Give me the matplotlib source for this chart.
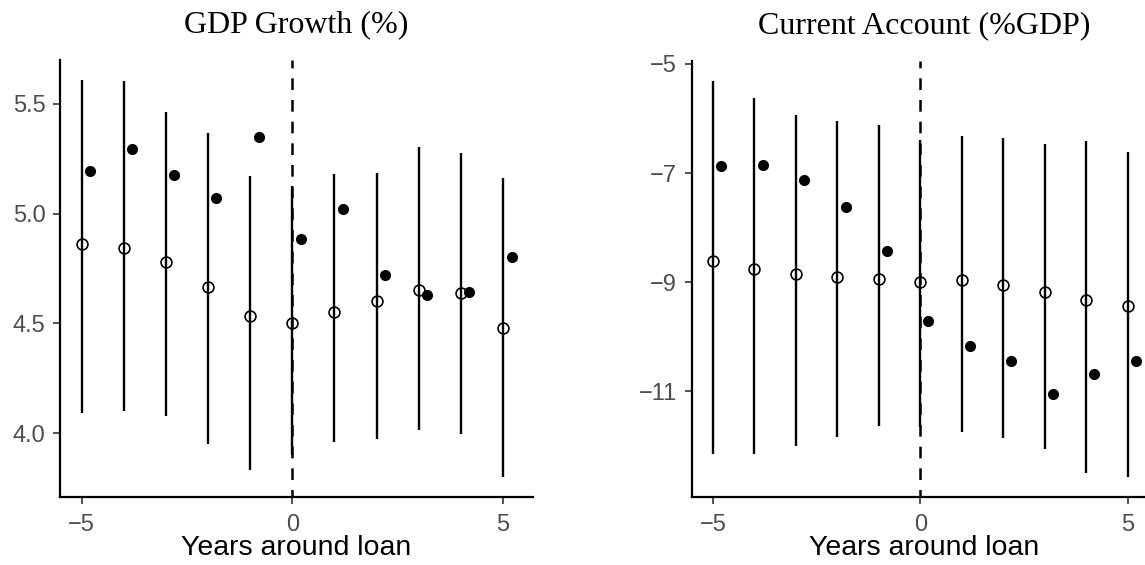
import matplotlib
matplotlib.use("Agg")
import matplotlib.pyplot as plt
import numpy as np

plt.rcParams['lines.scale_dashes'] = False

years = [-5, -4, -3, -2, -1, 0, 1, 2, 3, 4, 5]

# GDP Growth (%)
gdp_est = [4.860, 4.845, 4.779, 4.666, 4.535, 4.500, 4.553, 4.600, 4.651, 4.639, 4.480]
gdp_lo = [4.091, 4.103, 4.080, 3.951, 3.833, 3.901, 3.959, 3.974, 4.015, 3.995, 3.800]
gdp_hi = [5.609, 5.606, 5.462, 5.368, 5.171, 5.125, 5.179, 5.186, 5.303, 5.276, 5.162]
gdp_actual = [5.194, 5.292, 5.174, 5.070, 5.348, 4.886, 5.023, 4.720, 4.629, 4.642, 4.803]

# Current Account (%GDP)
ca_est = [-8.604, -8.750, -8.847, -8.908, -8.945, -9.005, -8.957, -9.060, -9.180, -9.320, -9.440]
ca_lo = [-12.156, -12.156, -11.995, -11.830, -11.640, -11.650, -11.740, -11.860, -12.060, -12.500, -12.570]
ca_hi = [-5.303, -5.632, -5.937, -6.047, -6.125, -6.388, -6.326, -6.360, -6.470, -6.410, -6.607]
ca_actual = [-6.863, -6.850, -7.119, -7.630, -8.420, -9.718, -10.175, -10.450, -11.050, -10.680, -10.440]

titles = ["GDP Growth (%)", "Current Account (%GDP)"]
xticks = [-5, 0, 5]
yticks_gdp = [4.0, 4.5, 5.0, 5.5]
ytick_labels_gdp = ["4.0", "4.5", "5.0", "5.5"]
yticks_ca = [-11, -9, -7, -5]
ytick_labels_ca = ["\u221211", "\u22129", "\u22127", "\u22125"]
xtick_labels = ["\u22125", "0", "5"]
xlabel = "Years around loan"
dodge = 0.2

W, H = 1145, 565
fig = plt.figure(figsize=(W / 100, H / 100), dpi=100)
fig.patch.set_facecolor("white")


def px_axes(x0, y0, x1, y1):
    return fig.add_axes([x0 / W, 1 - y1 / H, (x1 - x0) / W, (y1 - y0) / H])


ax1 = px_axes(60, 60, 533, 497)
ax2 = px_axes(691.7, 60.7, 1157, 496.7)

panels = [
    (ax1, gdp_est, gdp_lo, gdp_hi, gdp_actual, yticks_gdp, ytick_labels_gdp),
    (ax2, ca_est, ca_lo, ca_hi, ca_actual, yticks_ca, ytick_labels_ca),
]

for i, (ax, est, lo, hi, act, yt, ytl) in enumerate(panels):
    x = np.array(years, dtype=float)
    ax.vlines(x, lo, hi, color="black", lw=1.7, zorder=2)
    ax.plot(x, est, "o", ms=7.8, mfc="none", mec="black", mew=1.2, zorder=3, ls="none")
    ax.plot(x + dodge, act, "o", ms=8.0, mfc="black", mec="black", mew=0, zorder=3, ls="none")
    ax.axvline(0, color="black", lw=1.8, ls=(3, (8.4, 7.2)), zorder=1)

    allv = np.concatenate([lo, hi, est, act])
    vmin, vmax = allv.min(), allv.max()
    d = vmax - vmin
    ax.set_ylim(vmin - 0.05 * d, vmax + 0.05 * d)
    xr = (max(years) + dodge) - min(years)
    ax.set_xlim(min(years) - 0.05 * xr, max(years) + dodge + 0.05 * xr)

    ax.set_xticks(xticks)
    ax.set_xticklabels(xtick_labels)
    ax.set_yticks(yt)
    ax.set_yticklabels(ytl)

    for s in ["top", "right"]:
        ax.spines[s].set_visible(False)
    for s in ["left", "bottom"]:
        ax.spines[s].set_linewidth(1.6)
        ax.spines[s].set_color("black")
    ax.tick_params(axis="both", length=5, width=1.2, color="#333333",
                   labelcolor="#4D4D4D", labelsize=17)
    ax.tick_params(axis="x", pad=7.5)
    ax.tick_params(axis="y", pad=5.5)
    for lab in ax.get_xticklabels() + ax.get_yticklabels():
        lab.set_fontfamily("Liberation Sans")

    ax.set_xlabel(xlabel, fontsize=20.5, fontfamily="Liberation Sans", color="black", labelpad=-1)
    ax.set_title(titles[i], fontsize=23, fontfamily="Liberation Serif", color="black", pad=20)

fig.savefig("out.png", dpi=100, facecolor="white")
